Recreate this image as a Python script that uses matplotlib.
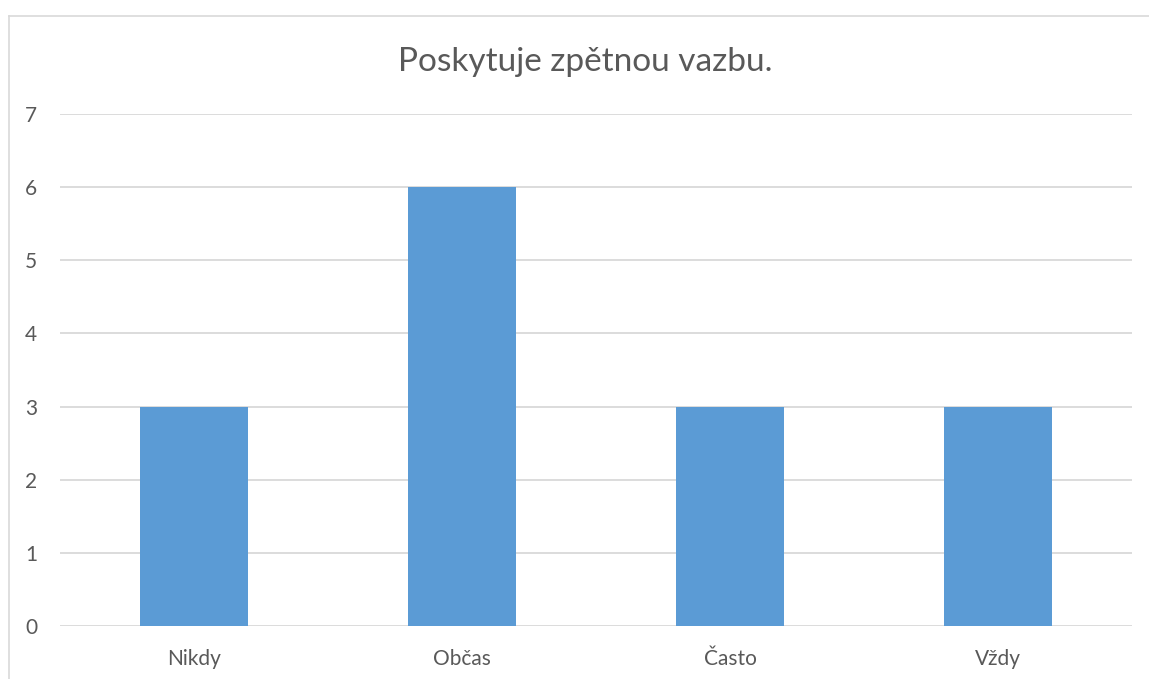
import matplotlib
matplotlib.use("Agg")
import matplotlib.pyplot as plt
from matplotlib.lines import Line2D

categories = ["Nikdy", "Občas", "Často", "Vždy"]
values = [3, 6, 3, 3]
yticks = [0, 1, 2, 3, 4, 5, 6, 7]
title = "Poskytuje zpětnou vazbu."

W, H = 1149, 679
plt.rcParams['font.family'] = ['Lato', 'DejaVu Sans']
fig = plt.figure(figsize=(W/100, H/100), dpi=100)
ax = fig.add_axes([60/W, 1-626/H, (1132-60)/W, (626-114)/H])

text_color = "#595959"
ax.bar(range(len(categories)), values, width=0.4, color="#5B9BD5", zorder=3)
ax.set_xlim(-0.5, len(categories)-0.5)
ax.set_ylim(0, 7)
ax.set_yticks(yticks)
ax.set_xticks(range(len(categories)))
ax.set_xticklabels(categories)
ax.grid(axis='y', color="#D9D9D9", linewidth=1.3, zorder=0)
for s in ax.spines.values():
    s.set_visible(False)
ax.tick_params(axis='both', length=0, colors=text_color, labelsize=15)
ax.tick_params(axis='x', pad=16.5)
ax.tick_params(axis='y', pad=16.5)

fig.text(0.5*(393+778)/W, 1-62/H, title, ha='center', va='center', fontsize=24, color=text_color)

fig.add_artist(Line2D([8.5/W, 8.5/W], [0, 1-15.5/H], transform=fig.transFigure, color="#D9D9D9", lw=1.2))
fig.add_artist(Line2D([8.5/W, 1], [1-15.5/H, 1-15.5/H], transform=fig.transFigure, color="#D9D9D9", lw=1.2))

fig.savefig("out.png", dpi=100)
